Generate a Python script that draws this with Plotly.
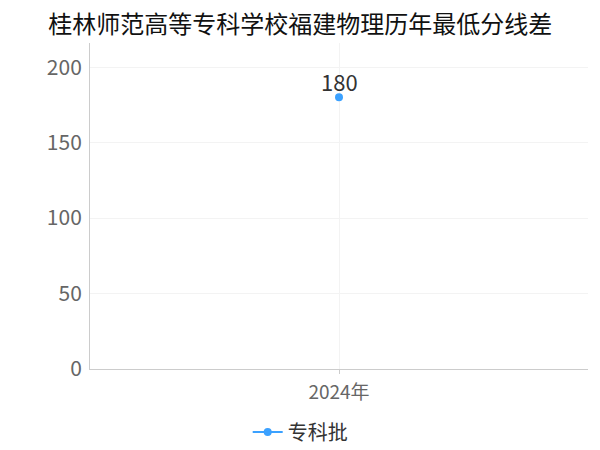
import plotly.graph_objects as go

# Data
years = ['2024年']
scores = [180]
series_name = '专科批'
title_text = '桂林师范高等专科学校福建物理历年最低分线差'

font_family = 'Noto Sans CJK SC'

figure = go.Figure()

figure.add_trace(go.Scatter(
    x=years,
    y=scores,
    name=series_name,
    mode='lines+markers',
    marker=dict(color='#3ba1ff', size=8),
    line=dict(color='#3ba1ff', width=2),
))

# value labels
for x, y in zip(years, scores):
    figure.add_annotation(x=x, y=y, text=str(y), showarrow=False,
                          yanchor='bottom', yshift=-2,
                          font=dict(size=22, color='#333333', family=font_family))

figure.update_layout(
    width=600,
    height=450,
    paper_bgcolor='white',
    plot_bgcolor='white',
    margin=dict(l=82, r=20, t=35, b=89, autoexpand=False),
    title=dict(text=title_text, x=0.487, xanchor='center', xref='container',
               yref='container', y=0.963, yanchor='middle',
               font=dict(size=24, color='#111111', family=font_family)),
    font=dict(family=font_family),
    showlegend=True,
    legend=dict(orientation='h', x=0.487, xanchor='center', xref='container',
                yref='container', y=0.058, yanchor='middle',
                font=dict(size=20, color='#333333', family=font_family)),
    xaxis=dict(
        automargin=False,
        showgrid=True, gridcolor='#f3f3f3',
        showline=True, linecolor='#cccccc', linewidth=1,
        ticks='outside', tickcolor='#cccccc', ticklen=4,
        ticklabelstandoff=2,
        tickfont=dict(size=19, color='#666666', family=font_family),
    ),
    yaxis=dict(
        automargin=False,
        range=[0, 216],
        tickvals=[0, 50, 100, 150, 200],
        showgrid=True, gridcolor='#f3f3f3',
        showline=True, linecolor='#cccccc', linewidth=1,
        zeroline=False,
        ticks='', ticklabelstandoff=3,
        tickfont=dict(size=21, color='#666666', family=font_family),
    ),
)

figure.write_html('out.html')
